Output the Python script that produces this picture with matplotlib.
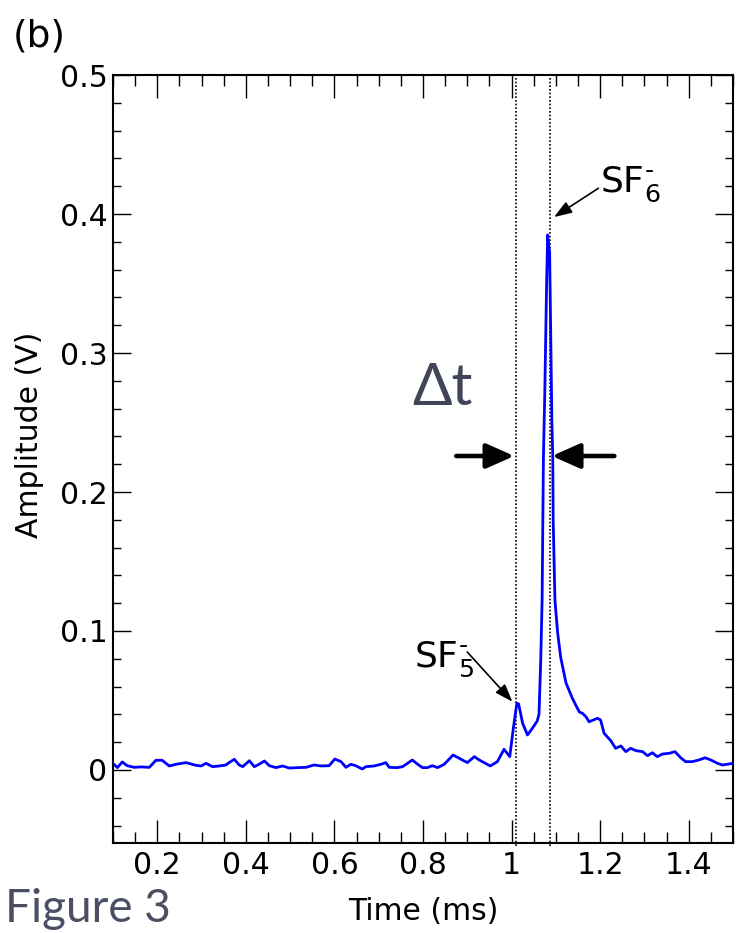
import matplotlib
matplotlib.use("Agg")
import matplotlib.pyplot as plt
from matplotlib.ticker import MultipleLocator, FormatStrFormatter

# digitised waveform (time in ms, amplitude in V)
time_ms = [
    0.100, 0.110, 0.121, 0.132, 0.148, 0.164, 0.182, 0.197, 0.211, 0.227,
    0.242, 0.265, 0.287, 0.299, 0.310, 0.325, 0.340, 0.355, 0.363, 0.374,
    0.385, 0.393, 0.408, 0.419, 0.430, 0.442, 0.453, 0.468, 0.483, 0.498,
    0.517, 0.536, 0.554, 0.570, 0.588, 0.601, 0.615, 0.626, 0.637, 0.648,
    0.663, 0.671, 0.690, 0.705, 0.716, 0.724, 0.742, 0.754, 0.765, 0.776,
    0.788, 0.799, 0.810, 0.821, 0.833, 0.848, 0.868, 0.882, 0.900, 0.916,
    0.927, 0.952, 0.968, 0.983, 0.996, 1.004, 1.012, 1.016, 1.025, 1.036,
    1.047, 1.058, 1.062, 1.066, 1.069, 1.072, 1.075, 1.079, 1.0815, 1.086,
    1.088, 1.091, 1.093, 1.094, 1.098, 1.104, 1.111, 1.123, 1.137, 1.153,
    1.160, 1.168, 1.175, 1.194, 1.201, 1.209, 1.224, 1.235, 1.247, 1.258,
    1.269, 1.281, 1.296, 1.307, 1.318, 1.329, 1.341, 1.356, 1.369, 1.382,
    1.393, 1.408, 1.423, 1.437, 1.450, 1.465, 1.476, 1.487, 1.499,
]
amp_v = [
    0.0048, 0.0017, 0.0058, 0.0031, 0.0019, 0.0022, 0.0019, 0.0070, 0.0070, 0.0029,
    0.0041, 0.0053, 0.0034, 0.0029, 0.0048, 0.0024, 0.0029, 0.0036, 0.0055, 0.0077,
    0.0036, 0.0024, 0.0067, 0.0024, 0.0041, 0.0065, 0.0031, 0.0017, 0.0029, 0.0014,
    0.0017, 0.0019, 0.0036, 0.0029, 0.0031, 0.0079, 0.0060, 0.0019, 0.0041, 0.0031,
    0.0007, 0.0024, 0.0029, 0.0041, 0.0053, 0.0019, 0.0017, 0.0024, 0.0048, 0.0072,
    0.0041, 0.0017, 0.0017, 0.0031, 0.0017, 0.0041, 0.0108, 0.0084, 0.0053, 0.0096,
    0.0072, 0.0029, 0.0060, 0.0149, 0.0096, 0.0300, 0.0480, 0.0475, 0.0336, 0.0252,
    0.0300, 0.0353, 0.0400, 0.0800, 0.1220, 0.2260, 0.2700, 0.3470, 0.3850, 0.3720,
    0.3240, 0.2520, 0.2260, 0.1800, 0.1220, 0.0990, 0.0810, 0.0626, 0.0518, 0.0417,
    0.0408, 0.0383, 0.0347, 0.0372, 0.0360, 0.0264, 0.0211, 0.0156, 0.0173, 0.0132,
    0.0156, 0.0139, 0.0132, 0.0103, 0.0124, 0.0096, 0.0115, 0.0120, 0.0132, 0.0088,
    0.0060, 0.0060, 0.0072, 0.0088, 0.0072, 0.0048, 0.0036, 0.0041, 0.0048,
]

# arrival times of the two peaks (dotted markers)
marker_times = [1.009, 1.0865]

# annotation anchors
sf6_text = (1.200, 0.4155)
sf6_tip = (1.096, 0.3978)
sf5_text = (0.780, 0.0740)
sf5_tail = (0.900, 0.0849)
sf5_tip = (1.002, 0.0491)
dt_level = 0.2259
dt_left = (0.875, 1.006)
dt_right = (1.232, 1.091)

fig = plt.figure(figsize=(7.36, 9.33), dpi=100)
ax = fig.add_axes([0.1535, 0.0965, 0.8424, 0.8231])

ax.plot(time_ms, amp_v, color="#0000ff", lw=2.0, zorder=3)

for t in marker_times:
    ax.plot([t, t], [-0.055, 0.5], color="black", lw=1.2,
            linestyle=(0, (1, 1.2)), zorder=2, clip_on=False)

ax.set_xlim(0.1, 1.5)
ax.set_ylim(-0.0525, 0.5)

ax.xaxis.set_major_locator(MultipleLocator(0.2))
ax.xaxis.set_minor_locator(MultipleLocator(0.05))
ax.yaxis.set_major_locator(MultipleLocator(0.1))
ax.yaxis.set_minor_locator(MultipleLocator(0.02))
ax.xaxis.set_major_formatter(FormatStrFormatter("%g"))
ax.yaxis.set_major_formatter(FormatStrFormatter("%g"))

ax.tick_params(axis="both", which="both", direction="in",
               top=True, right=True, width=1.0, labelsize=21.5)
ax.tick_params(axis="x", which="major", length=16.5, pad=6)
ax.tick_params(axis="x", which="minor", length=8)
ax.tick_params(axis="y", which="major", length=13, pad=4)
ax.tick_params(axis="y", which="minor", length=6)
for spine in ax.spines.values():
    spine.set_linewidth(1.5)

ax.set_xlabel("Time (ms)", fontsize=21.5)
ax.xaxis.set_label_coords(0.5, -0.070)
ax.set_ylabel("Amplitude (V)", fontsize=21.5, va="center")
ax.yaxis.set_label_coords(-0.134, 0.531)

# peak labels
arrow_thin = dict(arrowstyle="-|>,head_length=0.45,head_width=0.16",
                  color="black", lw=1.2, shrinkA=0, shrinkB=0, mutation_scale=24)
ax.text(sf6_text[0], sf6_text[1], r"SF$_6^{\text{-}}$", fontsize=26,
        ha="left", va="baseline")
ax.annotate("", xy=sf6_tip, xytext=(sf6_text[0] - 0.004, sf6_text[1] + 0.003),
            arrowprops=arrow_thin)
ax.text(sf5_text[0], sf5_text[1], r"SF$_5^{\text{-}}$", fontsize=26,
        ha="left", va="baseline")
ax.annotate("", xy=sf5_tip, xytext=sf5_tail, arrowprops=arrow_thin)

# delta-t arrows
for tail, tip in [dt_left, dt_right]:
    ax.annotate("", xy=(tip, dt_level), xytext=(tail, dt_level),
                arrowprops=dict(arrowstyle="-|>,head_length=0.45,head_width=0.2",
                                color="black", lw=3.3, shrinkA=0, shrinkB=0,
                                mutation_scale=38))
ax.text(0.776, 0.2626, "\u0394t", fontsize=42, color="#41455a",
        family=["Lato", "DejaVu Sans"], ha="left", va="baseline")

fig.text(13 / 736, 1 - 46 / 933, "(b)", fontsize=27, ha="left", va="baseline")
fig.text(5 / 736, 1 - 922 / 933, "Figure 3", fontsize=33, color="#4b4f63",
         family=["Lato", "DejaVu Sans"], ha="left", va="baseline")

fig.savefig("out.png", dpi=100)
